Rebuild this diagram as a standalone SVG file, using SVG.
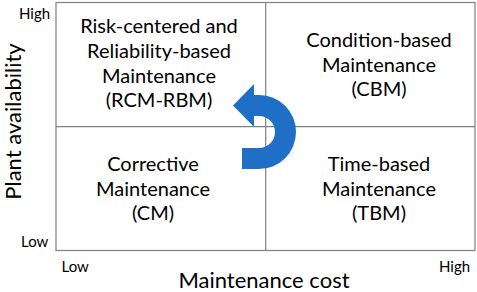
<svg xmlns="http://www.w3.org/2000/svg" width="477" height="292" viewBox="0 0 477 292">
<style>
text{font-family:Lato,"Open Sans","Liberation Sans",sans-serif;fill:#000}
.q{font-size:20px;text-anchor:middle}
.t{font-size:15px}
.ax{font-size:22px;text-anchor:middle}
.frame{fill:#fff;stroke:#7f7f7f;stroke-width:1.2}
.div{stroke:#7f7f7f;stroke-width:1.2;fill:none}
.arrow{fill:#1f6fc6;stroke:none}
</style>
<rect width="477" height="292" fill="#fff"/>
<g id="frame">
<rect class="frame" x="56" y="2.5" width="419" height="248"/>
</g>
<g id="connectors">
<line class="div" x1="265.7" y1="2.5" x2="265.7" y2="250.5"/>
<line class="div" x1="56" y1="126.7" x2="475" y2="126.7"/>
<path class="arrow" d="M242 148 L259 148 A16 16 0 0 0 259 116 L254 116 L254 127 L233 105.5 L254 84 L254 95 L259 95 A37 37 0 0 1 259 169 L242 169 Z"/>
</g>
<g id="rcm">
<text class="q" x="159" y="33">Risk-centered and</text>
<text class="q" x="159" y="58">Reliability-based</text>
<text class="q" x="159" y="83">Maintenance</text>
<text class="q" x="159" y="107">(RCM-RBM)</text>
</g>
<g id="cbm">
<text class="q" x="379" y="47">Condition-based</text>
<text class="q" x="379" y="72">Maintenance</text>
<text class="q" x="379" y="96">(CBM)</text>
</g>
<g id="cm">
<text class="q" x="153" y="171">Corrective</text>
<text class="q" x="153" y="196">Maintenance</text>
<text class="q" x="153" y="220">(CM)</text>
</g>
<g id="tbm">
<text class="q" x="379" y="171">Time-based</text>
<text class="q" x="379" y="196">Maintenance</text>
<text class="q" x="379" y="220">(TBM)</text>
</g>
<g id="axes">
<text class="t" x="19" y="19">High</text>
<text class="t" x="21" y="247">Low</text>
<text class="t" x="61.5" y="272">Low</text>
<text class="t" x="439" y="272">High</text>
<text class="ax" x="264" y="287.5">Maintenance cost</text>
<text class="ax" transform="translate(21,121.5) rotate(-90)">Plant availability</text>
</g>
</svg>
